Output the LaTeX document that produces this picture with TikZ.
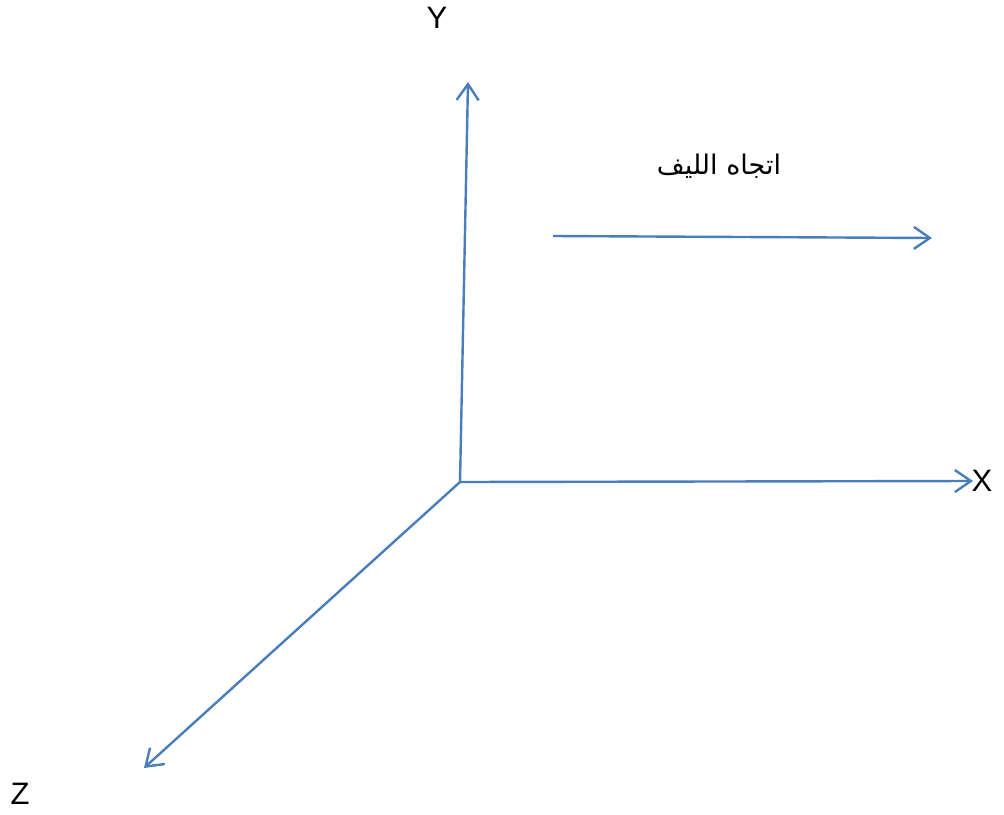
\documentclass[tikz,border=0pt]{standalone}
\usepackage{fontspec}
\setmainfont{Liberation Sans}
\newfontfamily\arabicfont[Script=Arabic]{DejaVu Sans}
\TeXXeTstate=1
\usetikzlibrary{arrows.meta}
\definecolor{axisblue}{HTML}{4A7EBB}
\tikzset{
  axisline/.style={draw=axisblue, line width=2.4pt, -{Straight Barb[length=16pt,width=22pt,line width=2.4pt]}},
  axislabel/.style={font=\fontsize{31}{34}\selectfont, inner sep=0pt}
}
\begin{document}
\begin{tikzpicture}[x=1pt,y=-1pt]
\useasboundingbox (0,0) rectangle (1004,814);
\coordinate (O) at (460,482);
\coordinate (Ytip) at (468,82);
\coordinate (Xtip) at (973,481);
\coordinate (Ztip) at (144,768);
\coordinate (Fs) at (553,236);
\coordinate (Fe) at (932,238);
\node[axislabel] (Y) at (437,18) {Y};
\node[axislabel] (X) at (982,481) {X};
\node[axislabel] (Z) at (20,794) {Z};
\node[inner sep=0pt, font=\arabicfont\fontsize{27}{30}\selectfont] (F) at (719,166) {\beginR اتجاه الليف\endR};
\draw[axisline] (O) -- (Ytip);
\draw[axisline] (O) -- (Xtip);
\draw[axisline] (O) -- (Ztip);
\draw[axisline] (Fs) -- (Fe);
\end{tikzpicture}
\end{document}
